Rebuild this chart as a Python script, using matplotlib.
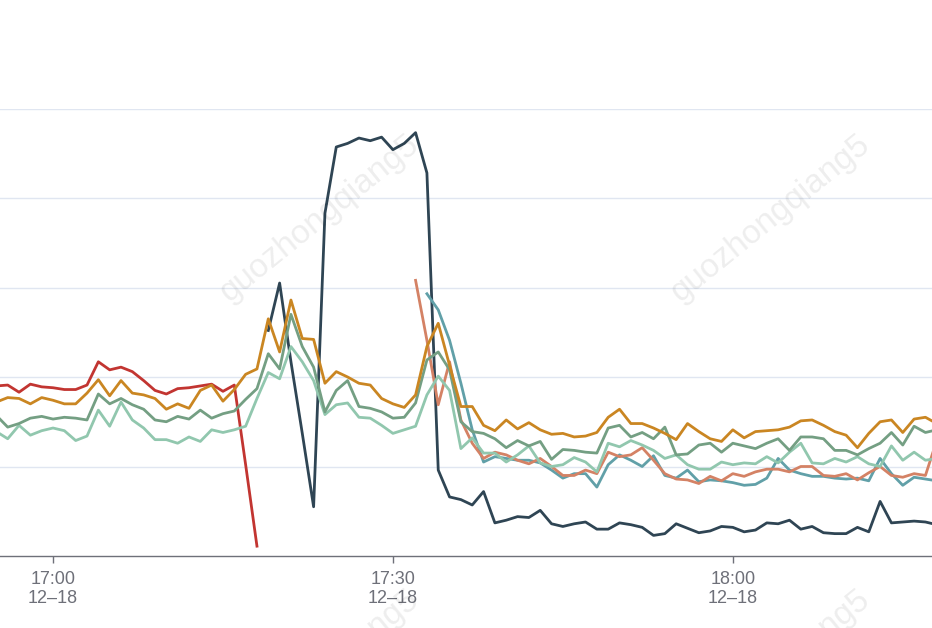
import matplotlib.pyplot as plt
import numpy as np

plt.rcParams['font.family'] = ['Liberation Sans', 'DejaVu Sans']

# minutes after 17:00 (12-18), one point per minute
red_start = -5
red = [1.90, 1.91, 1.83, 1.92, 1.89, 1.88, 1.86, 1.86, 1.91, 2.17, 2.08, 2.11,
       2.06, 1.96, 1.85, 1.81, 1.87, 1.88, 1.90, 1.92, 1.84, 1.91, 1.02, 0.11]

navy_start = 19
navy = [2.52, 3.05, 2.17, 1.37, 0.55, 3.83, 4.57, 4.61, 4.67, 4.64, 4.68, 4.54,
        4.61, 4.73, 4.28, 0.96, 0.66, 0.63, 0.57, 0.72, 0.37, 0.40, 0.44, 0.43,
        0.51, 0.36, 0.33, 0.36, 0.38, 0.30, 0.30, 0.37, 0.35, 0.32, 0.23, 0.25,
        0.36, 0.31, 0.26, 0.28, 0.33, 0.32, 0.27, 0.29, 0.37, 0.36, 0.40, 0.30,
        0.33, 0.26, 0.25, 0.25, 0.32, 0.27, 0.61, 0.37, 0.38, 0.39, 0.38, 0.35]

teal_start = 33
teal = [2.93, 2.75, 2.41, 1.93, 1.41, 1.05, 1.11, 1.09, 1.07, 1.07, 1.04, 0.96,
        0.87, 0.92, 0.92, 0.77, 1.02, 1.13, 1.07, 1.00, 1.12, 0.90, 0.87, 0.96,
        0.83, 0.85, 0.84, 0.82, 0.79, 0.80, 0.87, 1.09, 0.96, 0.92, 0.89, 0.89,
        0.87, 0.86, 0.87, 0.84, 1.09, 0.92, 0.79, 0.88, 0.86, 0.84]

salmon_start = 32
salmon = [3.08, 2.41, 1.69, 2.17, 1.52, 1.26, 1.09, 1.16, 1.13, 1.07, 1.03, 1.09,
          1.00, 0.90, 0.90, 0.96, 0.92, 1.16, 1.11, 1.13, 1.21, 1.07, 0.92, 0.86,
          0.85, 0.81, 0.89, 0.84, 0.92, 0.89, 0.94, 0.97, 0.97, 0.94, 1.00, 1.00,
          0.90, 0.89, 0.92, 0.85, 0.93, 1.00, 0.90, 0.88, 0.92, 0.90, 1.29]

light_start = -5
light = [1.39, 1.31, 1.46, 1.35, 1.40, 1.43, 1.40, 1.29, 1.34, 1.63, 1.45, 1.72,
         1.52, 1.43, 1.30, 1.30, 1.26, 1.33, 1.28, 1.41, 1.38, 1.41, 1.45, 1.76,
         2.05, 1.98, 2.34, 2.17, 1.96, 1.58, 1.69, 1.71, 1.55, 1.54, 1.46, 1.37,
         1.41, 1.45, 1.80, 2.01, 1.85, 1.20, 1.32, 1.15, 1.15, 1.05, 1.13, 1.23,
         1.04, 1.00, 1.02, 1.10, 1.05, 0.94, 1.26, 1.22, 1.29, 1.24, 1.18, 1.09,
         1.13, 1.02, 0.97, 0.97, 1.05, 1.02, 1.04, 1.03, 1.11, 1.04, 1.16, 1.26,
         1.04, 1.03, 1.09, 1.05, 1.11, 1.03, 1.00, 1.23, 1.07, 1.16, 1.07, 1.09]

green_start = -5
green = [1.57, 1.44, 1.48, 1.54, 1.56, 1.53, 1.55, 1.54, 1.52, 1.81, 1.70, 1.76,
         1.69, 1.64, 1.52, 1.50, 1.56, 1.53, 1.63, 1.54, 1.59, 1.62, 1.75, 1.87,
         2.26, 2.09, 2.70, 2.34, 2.11, 1.61, 1.85, 1.96, 1.67, 1.65, 1.61, 1.54,
         1.55, 1.71, 2.19, 2.28, 2.08, 1.50, 1.39, 1.37, 1.31, 1.21, 1.29, 1.23,
         1.28, 1.08, 1.19, 1.18, 1.16, 1.15, 1.43, 1.46, 1.33, 1.38, 1.31, 1.44,
         1.13, 1.14, 1.24, 1.26, 1.16, 1.26, 1.23, 1.20, 1.26, 1.31, 1.18, 1.33,
         1.33, 1.31, 1.18, 1.18, 1.13, 1.20, 1.26, 1.38, 1.24, 1.45, 1.38, 1.41]

gold_start = -5
gold = [1.72, 1.77, 1.76, 1.70, 1.77, 1.74, 1.70, 1.70, 1.82, 1.97, 1.79, 1.96,
        1.82, 1.80, 1.76, 1.64, 1.70, 1.65, 1.85, 1.91, 1.73, 1.86, 2.03, 2.09,
        2.65, 2.28, 2.86, 2.43, 2.42, 1.93, 2.06, 2.00, 1.93, 1.91, 1.76, 1.70,
        1.66, 1.80, 2.34, 2.60, 2.13, 1.67, 1.67, 1.46, 1.40, 1.52, 1.42, 1.49,
        1.41, 1.36, 1.37, 1.33, 1.34, 1.38, 1.55, 1.64, 1.48, 1.48, 1.43, 1.37,
        1.30, 1.48, 1.39, 1.31, 1.28, 1.41, 1.32, 1.39, 1.40, 1.41, 1.44, 1.51,
        1.52, 1.46, 1.39, 1.35, 1.21, 1.37, 1.50, 1.52, 1.38, 1.53, 1.55, 1.48]

tick_pos = [0, 30, 60]
tick_labels = ['17:00\n12\u201318', '17:30\n12\u201318', '18:00\n12\u201318']

series = [
    (red_start, red, '#c23531'),
    (navy_start, navy, '#2f4554'),
    (teal_start, teal, '#61a0a8'),
    (salmon_start, salmon, '#d48265'),
    (light_start, light, '#91c7ae'),
    (green_start, green, '#749f83'),
    (gold_start, gold, '#ca8622'),
]

fig = plt.figure(figsize=(9.32, 6.28), dpi=100)
ax = fig.add_axes([0, 72 / 628, 1, 447.5 / 628])

for start, vals, col in series:
    x = np.arange(start, start + len(vals))
    ax.plot(x, vals, color=col, lw=2.0, solid_joinstyle='round')

ax.set_xlim(-4.68, 77.58)
ax.set_ylim(0, 5)
ax.set_yticks([1, 2, 3, 4, 5])
ax.yaxis.grid(True, color='#e0e6f1', lw=1.0)
ax.set_axisbelow(True)
ax.tick_params(axis='y', left=False, labelleft=False)
ax.set_xticks(tick_pos, tick_labels)
ax.tick_params(axis='x', length=5, width=1, color='#6e7079', labelcolor='#6e7079',
               labelsize=13, pad=6)
for lab in ax.get_xticklabels():
    lab.set_linespacing(1.1)
for s in ['left', 'right', 'top']:
    ax.spines[s].set_visible(False)
ax.spines['bottom'].set_color('#6e7079')
ax.spines['bottom'].set_linewidth(1)

# watermark
for cx, cy in [(320, 218), (771, 218), (320, 673), (771, 673)]:
    fig.text(cx / 932, 1 - cy / 628, 'guozhongqiang5', fontsize=24, rotation=39,
             ha='center', va='center', rotation_mode='anchor',
             color='black', alpha=0.07)

fig.savefig('out.png', dpi=100)
